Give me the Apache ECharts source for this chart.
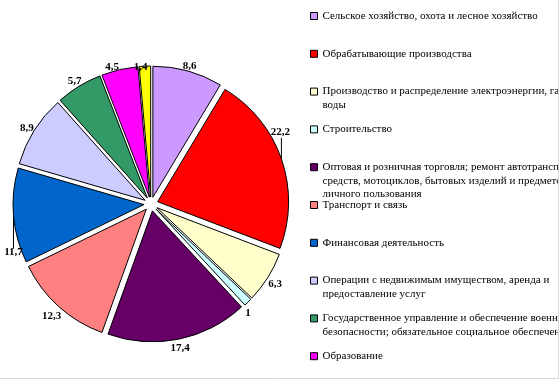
<!DOCTYPE html>
<html>
<head>
<meta charset="utf-8">
<script src="https://cdn.jsdelivr.net/npm/echarts@6/dist/echarts.min.js"></script>
<style>
html,body{margin:0;padding:0;background:#fff;}
#chart{width:560px;height:381px;}
</style>
</head>
<body>
<div id="chart"></div>
<script>
const categories = [
  'Сельское хозяйство, охота и лесное хозяйство',
  'Обрабатывающие производства',
  'Производство и распределение электроэнергии, газа и воды',
  'Строительство',
  'Оптовая и розничная торговля; ремонт автотранспортных средств, мотоциклов, бытовых изделий и предметов личного пользования',
  'Транспорт и связь',
  'Финансовая деятельность',
  'Операции с недвижимым имуществом, аренда и предоставление услуг',
  'Государственное управление и обеспечение военной безопасности; обязательное социальное обеспечение',
  'Образование',
  'Здравоохранение и предоставление социальных услуг'
];
const values = [8.6, 22.2, 6.3, 1, 17.4, 12.3, 11.7, 8.9, 5.7, 4.5, 1.4];
const colors = ['#CC99FF', '#FF0000', '#FFFFCC', '#CCFFFF', '#660066', '#FF8080', '#0066CC', '#CCCCFF', '#339966', '#FF00FF', '#FFFF00'];
const legendTexts = [
  'Сельское хозяйство, охота и лесное хозяйство',
  'Обрабатывающие производства',
  'Производство и распределение электроэнергии, газа и\nводы',
  'Строительство',
  'Оптовая и розничная торговля; ремонт автотранспортных\nсредств, мотоциклов, бытовых изделий и предметов\nличного пользования',
  'Транспорт и связь',
  'Финансовая деятельность',
  'Операции с недвижимым имуществом, аренда и\nпредоставление услуг',
  'Государственное управление и обеспечение военной\nбезопасности; обязательное социальное обеспечение',
  'Образование'
];

const fmt = v => String(v).replace('.', ',');
const CX = 151, CY = 204, R = 131, OFF = 7, RB = 138, LCY = 206;
const LH = 13.5, LEG_TOP = 16, LEG_STEP = 37.8;

const legends = legendTexts.map((t, i) => {
  const n = t.split('\n').length;
  const h = (2 * n - 1) * LH;
  return {
    orient: 'vertical',
    left: 310,
    top: LEG_TOP + LEG_STEP * i - h / 2,
    padding: 0,
    itemWidth: 7,
    itemHeight: 7,
    icon: 'rect',
    itemStyle: {borderColor: '#000', borderWidth: 1},
    data: [categories[i]],
    formatter: () => '\n'.repeat(n - 1) + t,
    textStyle: {fontFamily: 'Liberation Serif', fontSize: 11, color: '#000', lineHeight: LH}
  };
});

const leaderUp = 1, leaderDown = 6;
const nudges = {3: [-4, 5], 9: [-6, 2], 10: [-4, 5]};

const mainData = categories.map((name, i) => ({
  name: name, value: values[i], selected: true, itemStyle: {color: colors[i]}
}));
const ringData = categories.map((name, i) => {
  const d = {name: name, value: values[i]};
  if (i === leaderUp || i === leaderDown) {
    d.label = {position: 'outside'};
    d.labelLine = {show: true, length: 4, length2: 0, lineStyle: {color: '#000', width: 1}};
  }
  return d;
});

const labelFont = {fontFamily: 'Liberation Serif', fontSize: 11, fontWeight: 'bold', color: '#000'};

function ringLayout(p) {
  const r = p.labelRect;
  let px, py;
  if (p.labelLinePoints) { px = p.labelLinePoints[0][0]; py = p.labelLinePoints[0][1]; }
  else { px = r.x + r.width / 2; py = r.y + r.height / 2; }
  const vx = px - CX, vy = py - CY, len = Math.hypot(vx, vy);
  const ux = vx / len, uy = vy / len;
  if (p.dataIndex === leaderUp || p.dataIndex === leaderDown) {
    const ex = CX + ux * (R + OFF), ey = CY + uy * (R + OFF);
    if (p.dataIndex === leaderUp) {
      return {x: ex - 1, y: ey - 21, align: 'center', verticalAlign: 'bottom',
        labelLinePoints: [[ex, ey], [ex, ey - 21], [ex, ey - 21]]};
    }
    return {x: ex, y: ey + 31, align: 'center', verticalAlign: 'top',
      labelLinePoints: [[ex, ey], [ex, ey + 33], [ex, ey + 33]]};
  }
  const d = RB + Math.abs(ux) * r.width / 2 + Math.abs(uy) * r.height / 2;
  const nd = nudges[p.dataIndex] || [0, 0];
  return {x: CX + ux * d + nd[0], y: LCY + uy * d + nd[1], align: 'center', verticalAlign: 'middle'};
}

const chart = echarts.init(document.getElementById('chart'), null, {renderer: 'canvas'});
chart.setOption({
  backgroundColor: '#fff',
  animation: false,
  legend: legends,
  series: [
    {
      type: 'pie',
      center: [CX, CY],
      radius: R,
      startAngle: 90,
      clockwise: true,
      selectedMode: 'multiple',
      selectedOffset: OFF,
      avoidLabelOverlap: false,
      emphasis: {disabled: true},
      select: {itemStyle: {borderColor: '#000', borderWidth: 1}},
      itemStyle: {borderColor: '#000', borderWidth: 1},
      label: {show: false},
      labelLine: {show: false},
      data: mainData
    },
    {
      type: 'pie',
      center: [CX, CY],
      radius: [139, 153],
      startAngle: 90,
      clockwise: true,
      silent: true,
      legendHoverLink: false,
      avoidLabelOverlap: false,
      emphasis: {disabled: true},
      itemStyle: {color: 'rgba(0,0,0,0)', borderWidth: 0},
      label: Object.assign({position: 'inside', rotate: 0, formatter: p => fmt(p.value)}, labelFont),
      labelLine: {show: false},
      labelLayout: ringLayout,
      data: ringData
    }
  ],
  graphic: [
    {type: 'rect', shape: {x: 559, y: 0, width: 1, height: 381}, style: {fill: '#fff'}, z: 100},
    {type: 'line', shape: {x1: 558.5, y1: 0, x2: 558.5, y2: 378.5}, style: {stroke: '#d9d9d9', lineWidth: 1}, z: 100},
    {type: 'line', shape: {x1: 0, y1: 378.5, x2: 559, y2: 378.5}, style: {stroke: '#d9d9d9', lineWidth: 1}, z: 100}
  ]
});
</script>
</body>
</html>
